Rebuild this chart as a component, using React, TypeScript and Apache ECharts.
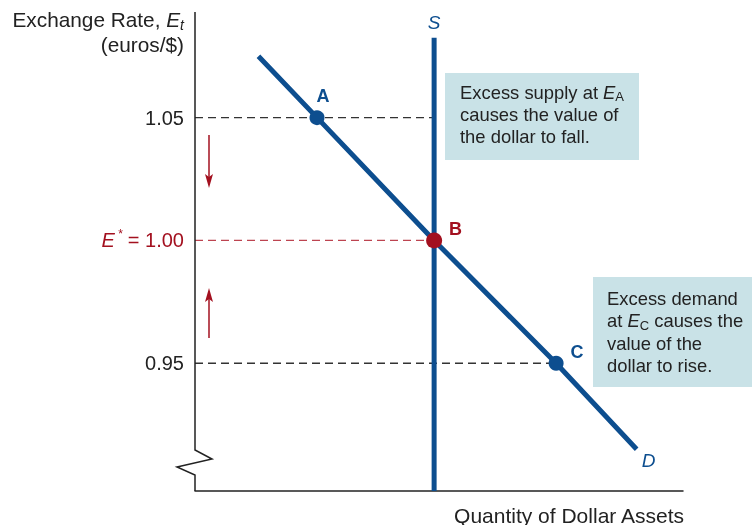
import React, { useEffect, useRef } from "react";
import * as echarts from "echarts";

// ---- data ----
const yTicks = [0.95, 1.0, 1.05];
const supplyQuantity = 49;
const supplyTop = 1.0825;
const demandLine: [number, number][] = [
  [13, 1.075],
  [25, 1.05],
  [49, 1.0],
  [74, 0.95],
  [90.5, 0.915],
];
const pointNames = ["A", "B", "C"];
const pointValues: [number, number][] = [
  [25, 1.05],
  [49, 1.0],
  [74, 0.95],
];
const dashLines: { from: [number, number]; to: [number, number]; red: boolean }[] = [
  { from: [0, 1.05], to: [49, 1.05], red: false },
  { from: [0, 1.0], to: [49, 1.0], red: true },
  { from: [0, 0.95], to: [74, 0.95], red: false },
];

const Y_MIN = 0.898;
const Y_MAX = 1.093;
const X_MIN = 0;
const X_MAX = 100;

const BLUE = "#0d4e8f";
const RED = "#a3101f";
const RED_DASH = "#bd4450";
const INK = "#222222";
const BOX = "#c9e2e7";
const FONT = "Liberation Sans, Arial, sans-serif";

export default function App() {
  const ref = useRef<HTMLDivElement>(null);
  useEffect(() => {
    if (!ref.current) return;
    const chart = echarts.init(ref.current, null, { renderer: "svg" });

    const dashSeries = dashLines.map((d) => ({
      type: "line",
      data: [d.from, d.to],
      symbol: "none",
      silent: true,
      z: 1,
      lineStyle: { color: d.red ? RED_DASH : "#333", width: 1.3, type: [8, 5] },
    }));

    const lastD = demandLine[demandLine.length - 1];

    const option: any = {
      animation: false,
      grid: { left: 195, top: 12, width: 488, height: 479 },
      xAxis: {
        type: "value",
        min: X_MIN,
        max: X_MAX,
        axisLine: { show: true, lineStyle: { color: INK, width: 1.5 } },
        axisTick: { show: false },
        axisLabel: { show: false },
        splitLine: { show: false },
      },
      yAxis: {
        type: "value",
        min: Y_MIN,
        max: Y_MAX,
        axisLine: { show: false },
        axisTick: { show: false },
        splitLine: { show: false },
        axisLabel: {
          customValues: yTicks,
          margin: 11,
          fontFamily: FONT,
          fontSize: 20,
          color: INK,
          formatter: (v: number) =>
            Math.abs(v - 1) < 1e-6 ? "{e|E}{s| *}{r|= 1.00}" : v.toFixed(2),
          rich: {
            e: { fontFamily: FONT, fontSize: 20, fontStyle: "italic", color: RED, lineHeight: 24 },
            s: { fontFamily: FONT, fontSize: 12, color: RED, verticalAlign: "top", lineHeight: 13, padding: [0, 5, 0, 0] },
            r: { fontFamily: FONT, fontSize: 20, color: RED, lineHeight: 24 },
          },
        },
      },
      series: [
        {
          type: "custom",
          data: [[0, Y_MIN]],
          silent: true,
          z: 5,
          renderItem: (params: any, api: any) => {
            const top = api.coord([X_MIN, Y_MAX]);
            const bot = api.coord([X_MIN, Y_MIN]);
            const x = top[0];
            const b = bot[1];
            return {
              type: "polyline",
              shape: {
                points: [
                  [x, top[1]],
                  [x, b - 41],
                  [x + 17, b - 32],
                  [x - 18, b - 24],
                  [x, b - 16],
                  [x, b],
                ],
              },
              style: { stroke: INK, lineWidth: 1.5, fill: "none" },
            };
          },
        },
        ...dashSeries,
        {
          type: "line",
          data: [
            [supplyQuantity, supplyTop],
            [supplyQuantity, Y_MIN],
          ],
          symbol: "none",
          z: 3,
          lineStyle: { color: BLUE, width: 5, cap: "butt" },
        },
        {
          type: "line",
          data: demandLine,
          symbol: "none",
          z: 4,
          lineStyle: { color: BLUE, width: 5, cap: "butt" },
        },
        {
          type: "scatter",
          z: 6,
          symbolSize: 2,
          itemStyle: { color: "rgba(0,0,0,0)", opacity: 1 },
          data: [
            {
              value: [supplyQuantity, supplyTop],
              label: { show: true, formatter: "S", position: "top", distance: 5, offset: [0, 0] },
            },
            {
              value: lastD,
              label: { show: true, formatter: "D", position: "bottom", distance: 1, offset: [12, 0] },
            },
          ],
          label: {
            show: true,
            fontFamily: FONT,
            fontSize: 19,
            fontStyle: "italic",
            color: BLUE,
            opacity: 1,
          },
        },
        {
          type: "scatter",
          z: 7,
          data: pointValues.map((p, i) => {
            const isB = pointNames[i] === "B";
            return {
              value: p,
              name: pointNames[i],
              symbolSize: isB ? 16 : 15,
              itemStyle: { color: isB ? RED : BLUE, opacity: 1 },
              label: {
                show: true,
                formatter: pointNames[i],
                position: i === 0 ? "top" : "right",
                distance: i === 0 ? 4 : 5,
                offset: i === 0 ? [6, -1] : [2, -11],
                fontFamily: FONT,
                fontSize: 18,
                fontWeight: "bold",
                color: isB ? RED : BLUE,
              },
            };
          }),
        },
      ],
      graphic: [
        // y-axis title
        {
          type: "text",
          x: 184,
          y: 7,
          style: {
            text: "{n|Exchange Rate, }{i|E}{sub|t}\n{n|(euros/$)}",
            align: "right",
            verticalAlign: "top",
            fill: INK,
            rich: {
              n: { fontFamily: FONT, fontSize: 20.8, fill: INK, lineHeight: 25 },
              i: { fontFamily: FONT, fontSize: 20.8, fontStyle: "italic", fill: INK, lineHeight: 25 },
              sub: { fontFamily: FONT, fontSize: 14, fontStyle: "italic", fill: INK, lineHeight: 15, verticalAlign: "bottom" },
            },
          },
        },
        // x-axis title
        {
          type: "text",
          x: 684,
          y: 515,
          style: {
            text: "Quantity of Dollar Assets",
            align: "right",
            verticalAlign: "middle",
            fontFamily: FONT,
            fontSize: 21,
            fill: INK,
          },
        },
        // box 1
        {
          type: "rect",
          shape: { x: 445, y: 73, width: 194, height: 87 },
          style: { fill: BOX },
          z: 0,
        },
        {
          type: "text",
          x: 460,
          y: 81,
          z: 10,
          style: {
            text: "{n|Excess supply at }{i|E}{sub|A}\n{n|causes the value of}\n{n|the dollar to fall.}",
            align: "left",
            verticalAlign: "top",
            rich: {
              n: { fontFamily: FONT, fontSize: 18.4, fill: INK, lineHeight: 22 },
              i: { fontFamily: FONT, fontSize: 18.4, fontStyle: "italic", fill: INK, lineHeight: 22 },
              sub: { fontFamily: FONT, fontSize: 13, fill: INK, lineHeight: 14, verticalAlign: "bottom" },
            },
          },
        },
        // box 2
        {
          type: "rect",
          shape: { x: 593, y: 277, width: 165, height: 110 },
          style: { fill: BOX },
          z: 0,
        },
        {
          type: "text",
          x: 607,
          y: 287,
          z: 10,
          style: {
            text: "{n|Excess demand}\n{n|at }{i|E}{sub|C}{n| causes the}\n{n|value of the}\n{n|dollar to rise.}",
            align: "left",
            verticalAlign: "top",
            rich: {
              n: { fontFamily: FONT, fontSize: 18.4, fill: INK, lineHeight: 22.5 },
              i: { fontFamily: FONT, fontSize: 18.4, fontStyle: "italic", fill: INK, lineHeight: 22.5 },
              sub: { fontFamily: FONT, fontSize: 13, fill: INK, lineHeight: 14, verticalAlign: "bottom" },
            },
          },
        },
        // down arrow
        {
          type: "line",
          shape: { x1: 209, y1: 135, x2: 209, y2: 180 },
          style: { stroke: RED, lineWidth: 1.5 },
        },
        {
          type: "polygon",
          shape: { points: [[205, 174], [209, 177], [213, 174], [209, 188]] },
          style: { fill: RED },
        },
        // up arrow
        {
          type: "line",
          shape: { x1: 209, y1: 296, x2: 209, y2: 338 },
          style: { stroke: RED, lineWidth: 1.5 },
        },
        {
          type: "polygon",
          shape: { points: [[209, 288], [213, 302], [209, 299], [205, 302]] },
          style: { fill: RED },
        },
      ],
    };
    chart.setOption(option);
    return () => chart.dispose();
  }, []);
  return (
    <div
      ref={ref}
      style={{ position: "fixed", left: 0, top: 0, width: 752, height: 525 }}
    />
  );
}
